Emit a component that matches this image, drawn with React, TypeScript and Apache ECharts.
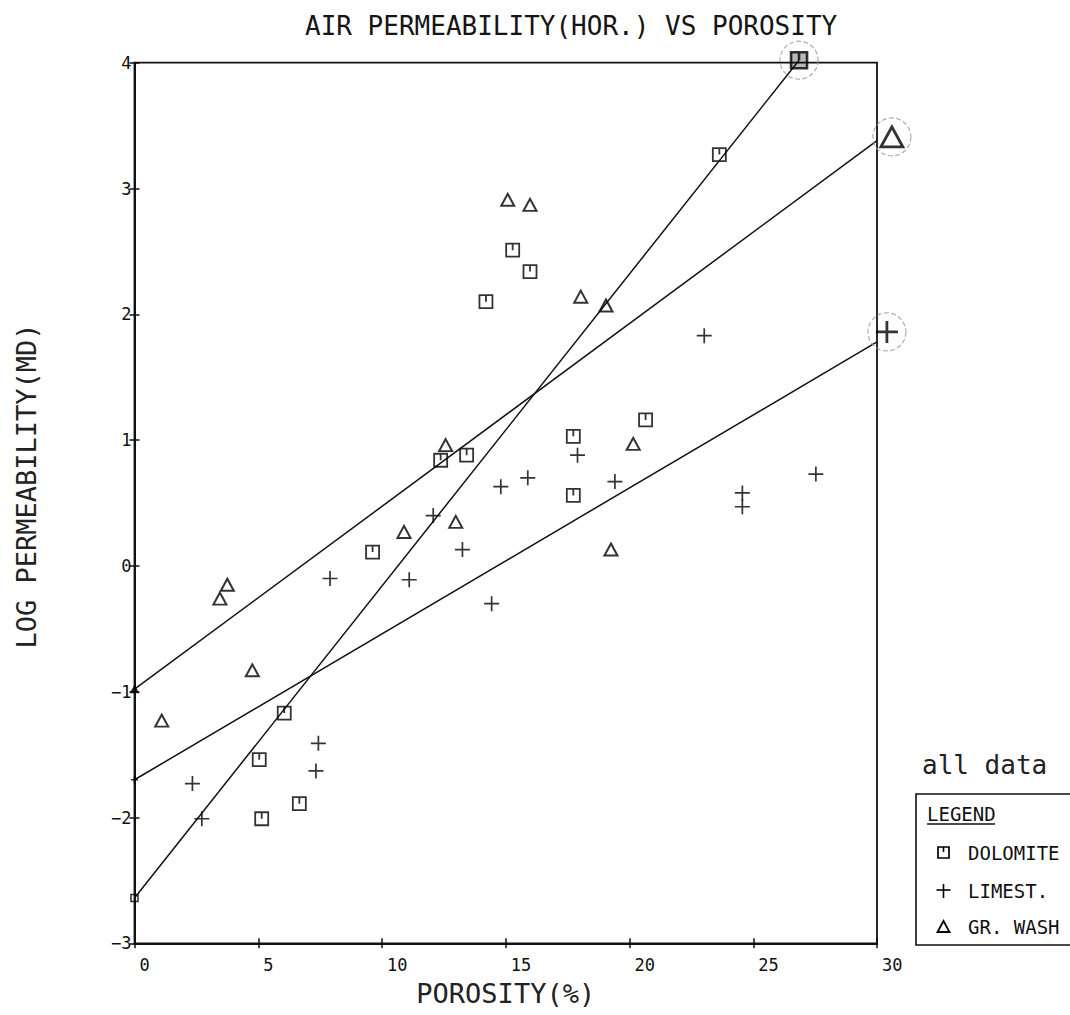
import { useEffect, useRef } from "react";
import * as echarts from "echarts";

// ---- data ----
const xTicks = [0, 5, 10, 15, 20, 25, 30];
const yTicks = [-3, -2, -1, 0, 1, 2, 3, 4];

const dolomite: number[][] = [
  [23.63, 3.27], [15.28, 2.51], [15.98, 2.34], [14.2, 2.1],
  [12.37, 0.84], [13.42, 0.88], [9.62, 0.11], [17.73, 1.03],
  [20.65, 1.16], [17.73, 0.56], [6.05, -1.17], [5.04, -1.54],
  [5.14, -2.01], [6.66, -1.89],
];
const limestone: number[][] = [
  [23.02, 1.83], [17.9, 0.88], [15.89, 0.7], [14.8, 0.63],
  [19.41, 0.67], [24.56, 0.58], [24.56, 0.47], [27.53, 0.73],
  [12.07, 0.4], [13.25, 0.13], [7.9, -0.1], [11.1, -0.11],
  [14.43, -0.3], [7.43, -1.41], [7.33, -1.63], [2.34, -1.73],
  [2.72, -2.01],
];
const grWash: number[][] = [
  [15.08, 2.91], [15.98, 2.87], [18.03, 2.14], [19.05, 2.07],
  [12.57, 0.96], [12.98, 0.35], [10.89, 0.27], [20.15, 0.97],
  [19.25, 0.13], [3.75, -0.15], [3.45, -0.26], [4.76, -0.83],
  [1.1, -1.23],
];

// regression lines (start, end)
const dolomiteFit: number[][] = [[0, -2.64], [26.85, 4.02]];
const limestFit: number[][] = [[0, -1.7], [30, 1.78]];
const grWashFit: number[][] = [[0, -0.98], [30, 3.38]];

// circled end markers
const dolomiteEnd: number[][] = [[26.85, 4.02]];
const grWashEnd: number[][] = [[30.6, 3.41]];
const limestEnd: number[][] = [[30.4, 1.86]];

const legendNames = ["DOLOMITE", "LIMEST.", "GR. WASH"];

const SQ = "path://M0,0L12,0L12,12L0,12Z M6,0L6,6";
const PLUS = "path://M6,0L6,12M0,6L12,6";
const TRI = "path://M6,0L12,11L0,11Z";

const MONO = '"DejaVu Sans Mono", "Liberation Mono", monospace';
const INK = "#000";

const markStyle = (w: number) => ({
  color: "rgba(0,0,0,0)",
  borderColor: INK,
  borderWidth: w,
});

export default function App() {
  const ref = useRef<HTMLDivElement>(null);

  useEffect(() => {
    if (!ref.current) return;
    const chart = echarts.init(ref.current, null, { renderer: "svg" });

    const grid = { left: 134.5, right: 193, top: 62.7, bottom: 71.7 };

    const lineSeries = (data: number[][]) => ({
      type: "line",
      data,
      symbol: "none",
      clip: false,
      silent: true,
      lineStyle: { color: "#111", width: 1.5 },
      z: 2,
    });

    const halo = (data: number[][]) => ({
      type: "scatter",
      data,
      symbol: "circle",
      symbolSize: 38,
      clip: false,
      silent: true,
      itemStyle: {
        color: "rgba(255,255,255,0)",
        borderColor: "#9a9a9a",
        borderType: "dashed",
        borderWidth: 1.2,
      },
      z: 3,
    });

    chart.setOption({
      animation: false,
      backgroundColor: "#fff",
      title: {
        text: "AIR PERMEABILITY(HOR.) VS POROSITY",
        left: 300,
        top: 8,
        textStyle: {
          fontFamily: MONO,
          fontSize: 26,
          fontWeight: "normal",
          color: "#151515",
        },
      },
      grid: {
        ...grid,
        show: true,
        borderColor: "#111",
        borderWidth: 1.8,
        backgroundColor: "rgba(0,0,0,0)",
      },
      xAxis: [
        {
          type: "value",
          position: "bottom",
          min: 0,
          max: 30,
          interval: 5,
          splitLine: { show: false },
          axisLine: { show: true, onZero: false, lineStyle: { color: "#111", width: 2 } },
          axisTick: { show: true, length: 5, lineStyle: { color: "#111", width: 1.5 } },
          axisLabel: {
            show: true,
            margin: 13,
            align: "left",
            padding: [0, 0, 0, 5],
            fontFamily: MONO,
            fontSize: 17,
            color: "#111",
            formatter: (v: number) => (xTicks.includes(v) ? String(v) : ""),
          },
          name: "POROSITY(%)",
          nameLocation: "middle",
          nameGap: 37,
          nameTextStyle: { fontFamily: MONO, fontSize: 27, color: "#222" },
        },
        {
          type: "value",
          position: "bottom",
          min: 0,
          max: 30,
          interval: 5,
          splitLine: { show: false },
          axisLine: { show: false, onZero: false },
          axisTick: { show: true, inside: true, length: 5, lineStyle: { color: "#111", width: 1.5 } },
          axisLabel: { show: false },
        },
      ],
      yAxis: [
        {
          type: "value",
          position: "left",
          min: -3,
          max: 4,
          interval: 1,
          splitLine: { show: false },
          axisLine: { show: true, onZero: false, lineStyle: { color: "#111", width: 2 } },
          axisTick: { show: true, length: 5, lineStyle: { color: "#111", width: 1.5 } },
          axisLabel: {
            show: true,
            margin: 3,
            fontFamily: MONO,
            fontSize: 17,
            color: "#111",
            formatter: (v: number) =>
              yTicks.includes(v) ? (v < 0 ? "\u2212" + Math.abs(v) : String(v)) : "",
          },
        },
        {
          type: "value",
          position: "left",
          min: -3,
          max: 4,
          interval: 1,
          splitLine: { show: false },
          axisLine: { show: false, onZero: false },
          axisTick: { show: true, inside: true, length: 5, lineStyle: { color: "#111", width: 1.5 } },
          axisLabel: { show: false },
        },
      ],
      graphic: [
        {
          type: "text",
          x: 26,
          y: 486,
          rotation: Math.PI / 2,
          style: {
            text: "LOG PERMEABILITY(MD)",
            font: `27px ${MONO}`,
            fill: "#222",
            align: "center",
            verticalAlign: "middle",
          },
        },
        {
          type: "text",
          x: 922,
          y: 765,
          style: {
            text: "all data",
            font: `26px ${MONO}`,
            fill: "#222",
            verticalAlign: "middle",
          },
        },
        {
          type: "rect",
          shape: { x: 916, y: 794, width: 170, height: 151 },
          style: { fill: "#fff", stroke: "#111", lineWidth: 1.6 },
        },
        {
          type: "text",
          x: 927,
          y: 814,
          style: { text: "LEGEND", font: `19px ${MONO}`, fill: "#111", verticalAlign: "middle" },
        },
        {
          type: "line",
          shape: { x1: 927, y1: 824, x2: 995, y2: 824 },
          style: { stroke: "#111", lineWidth: 1.3 },
        },
        // legend marker: square
        {
          type: "rect",
          shape: { x: 938, y: 847, width: 11, height: 11 },
          style: { fill: "none", stroke: INK, lineWidth: 1.7 },
        },
        {
          type: "line",
          shape: { x1: 943.5, y1: 847, x2: 943.5, y2: 852 },
          style: { stroke: INK, lineWidth: 1.6 },
        },
        // legend marker: plus
        {
          type: "line",
          shape: { x1: 943.5, y1: 884, x2: 943.5, y2: 898 },
          style: { stroke: INK, lineWidth: 1.6 },
        },
        {
          type: "line",
          shape: { x1: 936.5, y1: 890, x2: 950.5, y2: 890 },
          style: { stroke: INK, lineWidth: 1.6 },
        },
        // legend marker: triangle
        {
          type: "polygon",
          shape: { points: [[943.5, 921], [949.5, 932], [937.5, 932]] },
          style: { fill: "none", stroke: INK, lineWidth: 1.8 },
        },
        ...legendNames.map((t, i) => ({
          type: "text",
          x: 968,
          y: [853, 891, 927][i],
          style: { text: t, font: `19px ${MONO}`, fill: "#111", verticalAlign: "middle" },
        })),
      ],
      series: [
        lineSeries(dolomiteFit),
        lineSeries(limestFit),
        lineSeries(grWashFit),
        {
          name: "DOLOMITE",
          type: "scatter",
          data: dolomite,
          symbol: SQ,
          symbolSize: 13,
          itemStyle: markStyle(1.8),
          z: 4,
        },
        {
          name: "LIMEST.",
          type: "scatter",
          data: limestone,
          symbol: PLUS,
          symbolSize: 15,
          itemStyle: markStyle(1.7),
          z: 4,
        },
        {
          name: "GR. WASH",
          type: "scatter",
          data: grWash,
          symbol: TRI,
          symbolSize: [13, 12],
          itemStyle: markStyle(2),
          z: 4,
        },
        // small start markers at x = 0
        {
          type: "scatter",
          data: [dolomiteFit[0]],
          symbol: "path://M0,0L10,0L10,10L0,10Z",
          symbolSize: 7,
          clip: false,
          silent: true,
          itemStyle: markStyle(1.6),
          z: 5,
        },
        {
          type: "scatter",
          data: [limestFit[0]],
          symbol: PLUS,
          symbolSize: 7,
          clip: false,
          silent: true,
          itemStyle: markStyle(1.5),
          z: 5,
        },
        {
          type: "scatter",
          data: [grWashFit[0]],
          symbol: TRI,
          symbolSize: [8, 7],
          clip: false,
          silent: true,
          itemStyle: { color: INK, borderColor: INK, borderWidth: 1 },
          z: 5,
        },
        // circled end markers
        halo(dolomiteEnd),
        halo(grWashEnd),
        halo(limestEnd),
        {
          type: "scatter",
          data: dolomiteEnd,
          symbol: SQ,
          symbolSize: 16,
          clip: false,
          silent: true,
          itemStyle: { color: "rgba(0,0,0,0.35)", borderColor: INK, borderWidth: 2.6 },
          z: 6,
        },
        {
          type: "scatter",
          data: grWashEnd,
          symbol: TRI,
          symbolSize: [22, 20],
          clip: false,
          silent: true,
          itemStyle: markStyle(2.8),
          z: 6,
        },
        {
          type: "scatter",
          data: limestEnd,
          symbol: PLUS,
          symbolSize: 22,
          clip: false,
          silent: true,
          itemStyle: markStyle(2.8),
          z: 6,
        },
      ],
    });

    return () => chart.dispose();
  }, []);

  return (
    <div
      ref={ref}
      style={{ position: "absolute", left: 0, top: 0, width: 1070, height: 1015, background: "#fff" }}
    />
  );
}
